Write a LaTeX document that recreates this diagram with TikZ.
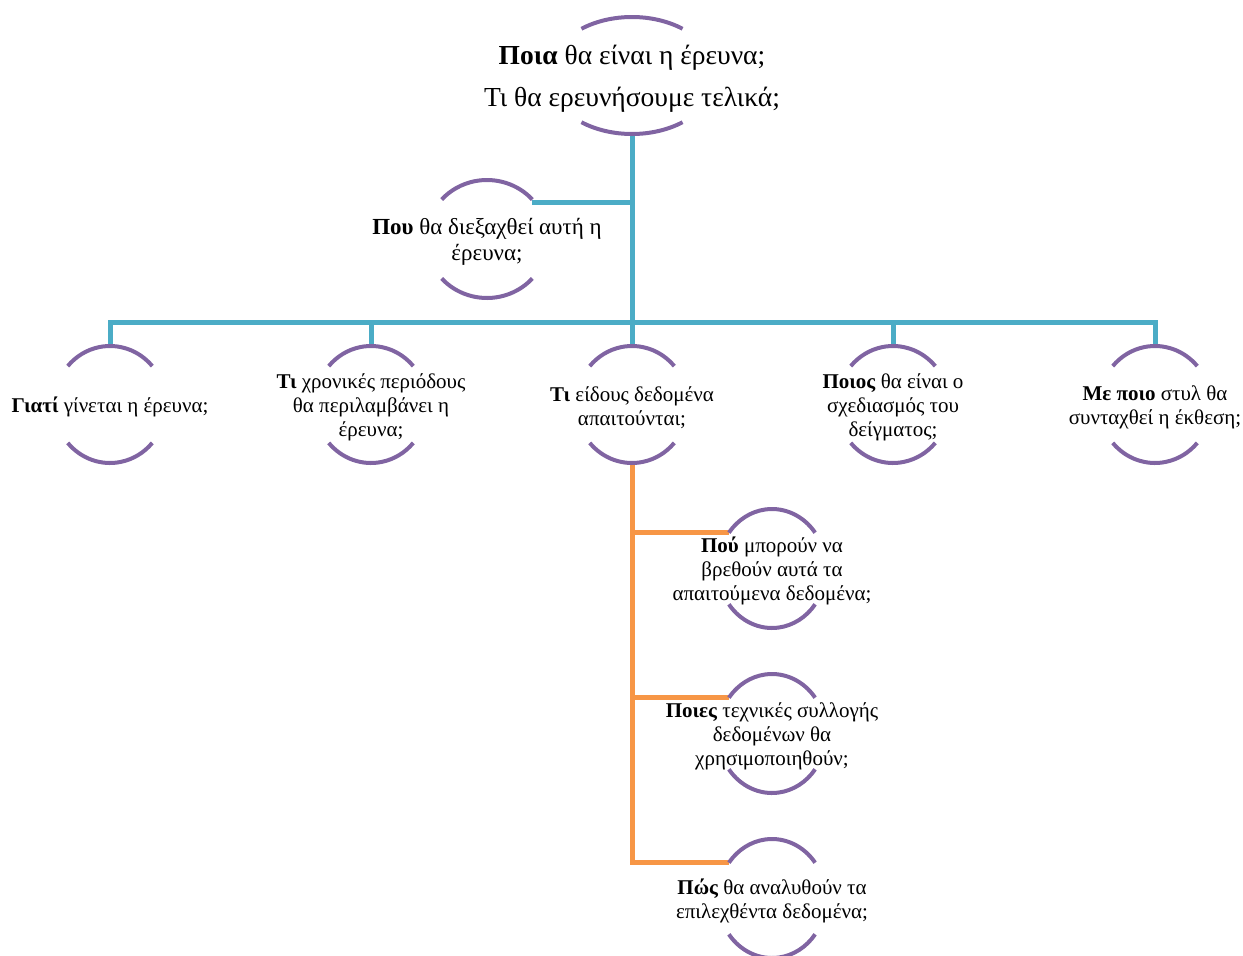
\documentclass[tikz,border=0pt]{standalone}
\usepackage{fontspec}
\setmainfont{Liberation Serif}
\usetikzlibrary{calc}
\definecolor{arcpurple}{HTML}{8064A2}
\definecolor{tealc}{HTML}{4BACC6}
\definecolor{orangec}{HTML}{F79646}
\tikzset{
  arcline/.style={draw=arcpurple, line width=4pt},
  tealline/.style={draw=tealc, line width=5pt},
  orangeline/.style={draw=orangec, line width=5pt},
  lbl/.style={align=center, inner sep=0pt, text=black, font=\fontsize{21}{24}\selectfont},
  biglbl/.style={lbl, font=\fontsize{27.5}{42}\selectfont},
  midlbl/.style={lbl, font=\fontsize{23}{26}\selectfont},
}
% #1 centre, #2 x radius, #3 y radius, #4 angle
\newcommand{\bracketpair}[4]{%
  \draw[arcline] ($(#1)+({#2*cos(#4)},{#3*sin(#4)})$) arc[start angle=#4, end angle={180-#4}, x radius=#2, y radius=#3];
  \draw[arcline] ($(#1)+({-#2*cos(#4)},{-#3*sin(#4)})$) arc[start angle={180+#4}, end angle={360-#4}, x radius=#2, y radius=#3];
}
\begin{document}
\begin{tikzpicture}[x=1pt,y=1pt]
\useasboundingbox (0,0) rectangle (1243,-956);
% centres
\coordinate (c0) at (632,-75.5);
\coordinate (cp) at (487,-239);
\coordinate (c1) at (110,-404.5);
\coordinate (c2) at (371,-404.5);
\coordinate (c3) at (632,-404.5);
\coordinate (c4) at (893,-404.5);
\coordinate (c5) at (1155,-404.5);
\coordinate (d1) at (772,-568.5);
\coordinate (d2) at (772,-733.5);
\coordinate (d3) at (772,-898.5);
% connector anchor points
\coordinate (c0b) at ($(c0)+(0,-58.5)$);
\coordinate (bus) at (632,-322);
\coordinate (cpR) at ($(cp)+(45,37)$);
\coordinate (c1t) at ($(c1)+(0,58.5)$);
\coordinate (c2t) at ($(c2)+(0,58.5)$);
\coordinate (c3t) at ($(c3)+(0,58.5)$);
\coordinate (c4t) at ($(c4)+(0,58.5)$);
\coordinate (c5t) at ($(c5)+(0,58.5)$);
\coordinate (c3b) at ($(c3)+(0,-58.5)$);
\coordinate (d1L) at ($(d1)+(-43,36)$);
\coordinate (d2L) at ($(d2)+(-43,36)$);
\coordinate (d3L) at ($(d3)+(-43,36)$);
% teal connectors
\draw[tealline] (c0b) -- (bus);
\draw[tealline] (cpR) -- (cpR -| c0b);
\draw[tealline] (bus) -| (c1t);
\draw[tealline] (bus) -| (c5t);
\draw[tealline] (bus -| c2t) -- (c2t);
\draw[tealline] (bus) -- (c3t);
\draw[tealline] (bus -| c4t) -- (c4t);
% orange connectors
\draw[orangeline] (c3b) |- (d3L);
\draw[orangeline] (c3b |- d1L) -- (d1L);
\draw[orangeline] (c3b |- d2L) -- (d2L);
% arcs
\bracketpair{c0}{84}{58.5}{53}
\bracketpair{cp}{61}{59}{42}
\bracketpair{c1}{56}{58.5}{41}
\bracketpair{c2}{56}{58.5}{41}
\bracketpair{c3}{56}{58.5}{41}
\bracketpair{c4}{56}{58.5}{41}
\bracketpair{c5}{56}{58.5}{41}
\bracketpair{d1}{54}{59.5}{37}
\bracketpair{d2}{54}{59.5}{37}
\bracketpair{d3}{54}{59.5}{37}
% texts
\node[biglbl] (n0) at ($(c0)+(0,-3.5)$) {\textbf{Ποια} θα είναι η έρευνα;\\Τι θα ερευνήσουμε τελικά;};
\node[midlbl] (np) at ($(cp)+(0,-3)$) {\textbf{Που} θα διεξαχθεί αυτή η\\έρευνα;};
\node[lbl] (n1) at ($(c1)+(0,-2)$) {\textbf{Γιατί} γίνεται η έρευνα;};
\node[lbl] (n2) at ($(c2)+(0,-3)$) {\textbf{Τι} χρονικές περιόδους\\θα περιλαμβάνει η\\έρευνα;};
\node[lbl] (n3) at ($(c3)+(0,-3)$) {\textbf{Τι} είδους δεδομένα\\απαιτούνται;};
\node[lbl] (n4) at ($(c4)+(0,-3)$) {\textbf{Ποιος} θα είναι ο\\σχεδιασμός του\\δείγματος;};
\node[lbl] (n5) at ($(c5)+(0,-3)$) {\textbf{Με ποιο} στυλ θα\\συνταχθεί η έκθεση;};
\node[lbl] (m1) at ($(d1)+(0,-2.5)$) {\textbf{Πού} μπορούν να\\βρεθούν αυτά τα\\απαιτούμενα δεδομένα;};
\node[lbl] (m2) at ($(d2)+(0,-2.5)$) {\textbf{Ποιες} τεχνικές συλλογής\\δεδομένων θα\\χρησιμοποιηθούν;};
\node[lbl] (m3) at ($(d3)+(0,-2)$) {\textbf{Πώς} θα αναλυθούν τα\\επιλεχθέντα δεδομένα;};
\end{tikzpicture}
\end{document}
